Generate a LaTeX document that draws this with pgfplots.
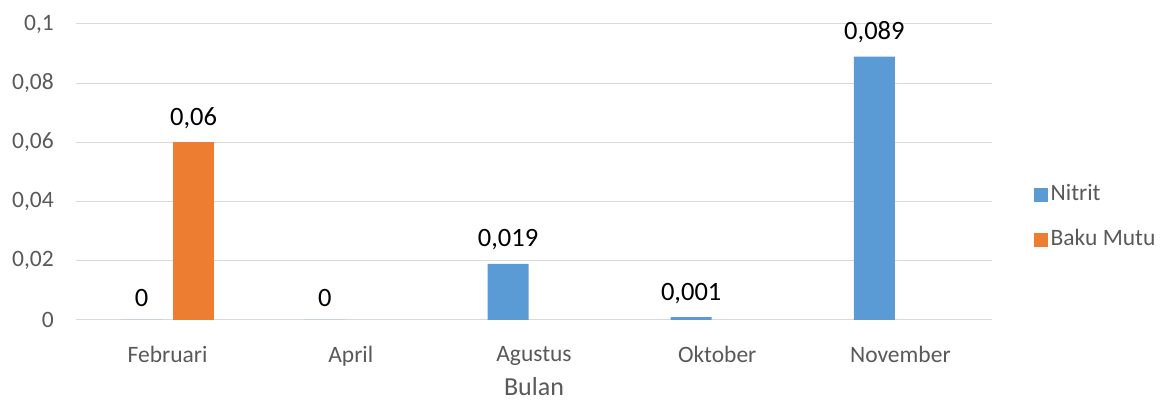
\documentclass[border=0pt]{standalone}
\usepackage{pgfplots}
\pgfplotsset{compat=1.18}
\usepackage{fontspec}
\setmainfont{Carlito}
\definecolor{nblue}{HTML}{5B9BD5}
\definecolor{borange}{HTML}{ED7D31}
\definecolor{gridc}{HTML}{D9D9D9}
\definecolor{txt}{HTML}{595959}
\newcommand\smallf{\fontsize{23.5}{28}\selectfont}
\newcommand\bigf{\fontsize{26.5}{32}\selectfont}
\newcommand\titlef{\fontsize{26}{31}\selectfont}
\begin{document}
\begin{tikzpicture}[x=1pt,y=1pt]
\path[use as bounding box] (0,0) rectangle (1169,403);
\begin{axis}[
  at={(76pt,83pt)}, anchor=south west,
  scale only axis, width=916pt, height=296pt,
  xmin=-0.5, xmax=4.5, ymin=0, ymax=0.1,
  clip=false,
  ybar, bar width=41pt,
  axis x line*=bottom, axis y line*=left,
  y axis line style={draw=none},
  x axis line style={draw=gridc, line width=1pt, -},
  ytick={0,0.02,0.04,0.06,0.08,0.1},
  yticklabels={0,{0,02},{0,04},{0,06},{0,08},{0,1}},
  ymajorgrids, grid style={draw=gridc, line width=1pt},
  ytick style={draw=none},
  xtick={0,1,2,3,4},
  xticklabels={Februari,April,Agustus,Oktober,November},
  xtick style={draw=none},
  extra x ticks={-0.5,0.5,1.5,2.5,3.5,4.5},
  extra x tick labels={},
  extra x tick style={tick style={draw=gridc, line width=1pt}, major tick length=6pt, tick align=outside, grid=none},
  ticklabel style={font=\smallf, text=txt},
  yticklabel style={inner sep=0pt, xshift=-22pt},
  xticklabel style={inner sep=0pt, yshift=-22pt},
  xlabel={Bulan},
  xlabel style={font=\titlef, text=txt, at={(axis description cs:0.5,0)}, anchor=base, yshift=-76pt, inner sep=0pt},
  legend style={draw=none, fill=none, at={(1,0.5)}, anchor=west, xshift=42pt, yshift=-45.5pt, inner sep=0pt, row sep=19pt, column sep=0pt,
    font=\smallf, text=txt, nodes={inner sep=2.5pt, text height=16pt, text depth=5pt}},
  legend cell align=left,
  legend image code/.code={\fill[#1] (0pt,-7pt) rectangle (14pt,7pt);},
  nodes near coords,
  point meta=explicit symbolic,
  every node near coord/.append style={font=\bigf, text=black, yshift=10pt},
]
\addplot[bar shift=-26pt, fill=nblue, draw=none] coordinates {
  (0,0) [0]
  (1,0) [0]
  (2,0.019) [{0,019}]
  (3,0.001) [{0,001}]
  (4,0.089) [{0,089}]
};
\addlegendentry{Nitrit}
\addplot[bar shift=26pt, fill=borange, draw=none] coordinates {
  (0,0.06) [{0,06}]
};
\addlegendentry{Baku Mutu}
\end{axis}
\end{tikzpicture}
\end{document}
